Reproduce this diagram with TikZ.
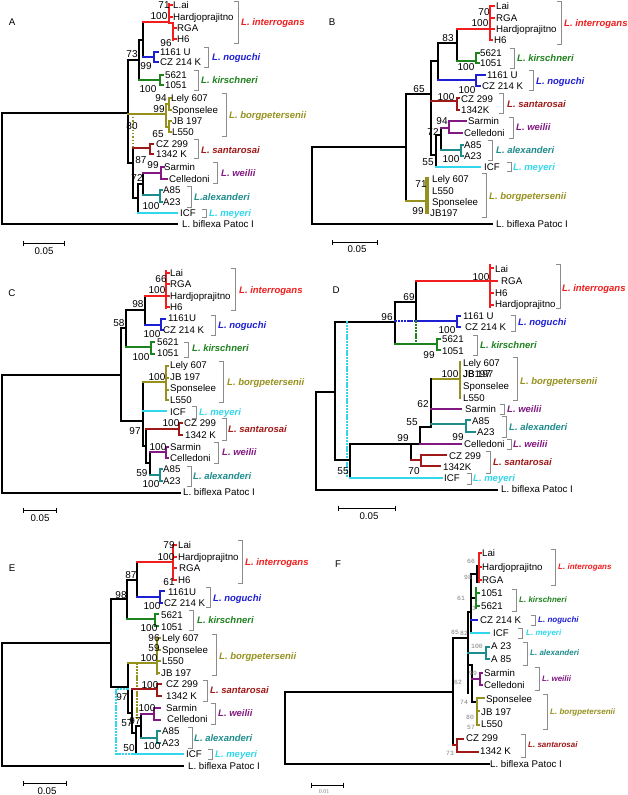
\documentclass[tikz,border=0pt]{standalone}
\usepackage{fontspec}
\setmainfont{Liberation Sans}
\newfontfamily\monof{Liberation Mono}
\newfontfamily\serf{Liberation Serif}
\definecolor{cint}{RGB}{240,30,30}
\definecolor{cnog}{RGB}{30,30,210}
\definecolor{ckir}{RGB}{30,130,30}
\definecolor{cbor}{RGB}{150,145,30}
\definecolor{csan}{RGB}{160,25,25}
\definecolor{cwei}{RGB}{130,25,130}
\definecolor{cale}{RGB}{30,140,140}
\definecolor{cmey}{RGB}{50,215,235}
\definecolor{brgray}{RGB}{140,140,140}
\newcounter{nd}
\tikzset{
 txt/.style={inner sep=0pt, text height=6.9pt, text depth=0pt, font=\fontsize{9.7}{11}\selectfont},
 leaf/.style={txt, anchor=west},
 boot/.style={txt, anchor=center, font=\fontsize{10}{11}\selectfont},
 sp/.style={txt, anchor=west, font=\fontsize{9.5}{11}\selectfont\bfseries\itshape},
 spf/.style={inner sep=0pt, text height=5.8pt, text depth=0pt, anchor=west, font=\fontsize{8}{9}\selectfont\bfseries\itshape},
 bootf/.style={inner sep=0pt, text height=4.4pt, text depth=0pt, anchor=center, text=gray, font=\fontsize{6.4}{7}\selectfont\monof},
 tl/.style={line width=1.35pt, line cap=rect},
 cl/.style={line width=1.2pt, line cap=rect},
 brk/.style={draw=brgray, line width=0.85pt},
}
\newcommand{\Lf}[3]{\stepcounter{nd}\node[leaf] (n\arabic{nd}) at (#1,#2) {#3};}
\newcommand{\Bs}[3]{\stepcounter{nd}\node[boot] (n\arabic{nd}) at (#1,#2) {#3};}
\newcommand{\Bf}[3]{\stepcounter{nd}\node[bootf] (n\arabic{nd}) at (#1,#2) {#3};}
\newcommand{\Sp}[4]{\stepcounter{nd}\node[sp,text=#1] (n\arabic{nd}) at (#2,#3) {#4};}
\newcommand{\Sf}[4]{\stepcounter{nd}\node[spf,text=#1] (n\arabic{nd}) at (#2,#3) {#4};}
\newcommand{\Br}[3]{\draw[brk] ({#1-4},#2) -- (#1,#2) -- (#1,#3) -- ({#1-4},#3);}
\newcommand{\Sc}[4]{\draw[line width=0.9pt] (#1,#3) -- (#2,#3) (#1,{#3-2.5}) -- (#1,{#3+2.5}) (#2,{#3-2.5}) -- (#2,{#3+2.5});}
\begin{document}
\begin{tikzpicture}[x=1pt,y=-1pt]
\useasboundingbox (0,0) rectangle (628,795);
\fill[white] (0,0) rectangle (628,795);

%%%%%%%%%%%%%%%% A
\node[txt] (labA) at (12,22) {A};
\draw[tl] (2,113) -- (128,113) (2,113) -- (2,224) -- (177,224);
\draw[tl] (128,60) -- (128,163) -- (133,163);
\draw[tl] (128,60) -- (139,60) (139,40) -- (139,80) (139,40) -- (143,40) (143,22) -- (143,57);
\draw[cl,cint] (143,22) -- (169,22) (169,4) -- (169,23) -- (173,23) (173,23) -- (173,40) (169,5) -- (172,5) (169,17) -- (172,17) (173,28) -- (176,28) (173,39) -- (176,39);
\draw[cl,cnog] (143,57) -- (154,57) (158,52) -- (154,52) -- (154,62) -- (158,62);
\draw[cl,ckir] (139,80) -- (160,80) (163,75) -- (160,75) -- (160,85) -- (163,85);
\draw[cl,cbor] (128,114) -- (166,114) (166,104) -- (166,127) (166,104) -- (169,104) (169,98) -- (169,110) (166,127) -- (169,127) (169,121) -- (169,132) (169,98) -- (171,98) (169,110) -- (171,110) (169,121) -- (171,121) (169,132) -- (171,132);
\draw[cbor, dotted, line width=1.2pt] (128,114) -- (138,114) (133,114) -- (133,163);
\draw[tl] (133,148) -- (133,198) -- (138,198) (138,184) -- (138,213) (138,184) -- (143,184) (143,173) -- (143,195);
\draw[cl,csan] (133,148) -- (150,148) (153,144) -- (150,144) -- (150,154) -- (153,154);
\draw[cl,cwei] (143,173) -- (161,173) (164,167) -- (161,167) -- (161,179) -- (167,179);
\draw[cl,cale] (143,195) -- (160,195) (162,190) -- (160,190) -- (160,202) -- (162,202);
\draw[cl,cmey] (138,213) -- (177,213);
\Lf{173}{5}{L.ai} \Lf{173}{17}{Hardjoprajitno} \Lf{177}{28}{RGA} \Lf{177}{39}{H6}
\Lf{160}{52}{1161 U} \Lf{160}{62}{CZ 214 K} \Lf{165}{75}{5621} \Lf{165}{85}{1051}
\Lf{171}{98}{Lely 607} \Lf{172}{110}{Sponselee} \Lf{172}{121}{JB 197} \Lf{172}{132}{L550}
\Lf{156}{144}{CZ 299} \Lf{156}{154}{1342 K} \Lf{164}{167}{Sarmin} \Lf{169}{179}{Celledoni}
\Lf{163}{190}{A85} \Lf{163}{202}{A23} \Lf{180}{213}{ICF} \Lf{182}{224}{L. biflexa Patoc I}
\Bs{164}{5}{71} \Bs{159}{16}{100} \Bs{166}{43}{96} \Bs{132}{54}{73} \Bs{146}{66}{99} \Bs{148}{89}{100}
\Bs{161}{98}{94} \Bs{159}{109}{99} \Bs{158}{134}{65} \Bs{132}{126}{80} \Bs{141}{160}{87}
\Bs{153}{165}{99} \Bs{137}{178}{72} \Bs{151}{206}{100}
\Br{238}{1}{43} \Sp{cint}{241}{22}{L. interrogans}
\Br{208}{47}{67} \Sp{cnog}{212}{57}{L. noguchi}
\Br{198}{70}{90} \Sp{ckir}{201}{80}{L. kirschneri}
\Br{226}{93}{136} \Sp{cbor}{229}{115}{L. borgpetersenii}
\Br{198}{139}{158} \Sp{csan}{201}{150}{L. santarosai}
\Br{217}{162}{183} \Sp{cwei}{221}{173}{L. weilii}
\Br{191}{186}{207} \Sp{cale}{194}{197}{L.alexanderi}
\Br{206}{209}{217} \Sp{cmey}{209}{213}{L. meyeri}
\Sc{23}{64}{243}{} \node[txt] (scA) at (44,251) {0.05};

%%%%%%%%%%%%%%%% B
\node[txt] (labB) at (332,22) {B};
\draw[tl] (312,147) -- (406,147) (312,147) -- (312,224) -- (492,224);
\draw[tl] (406,94) -- (406,201) (406,94) -- (431,94) (431,61) -- (431,155) (431,61) -- (438,61) (438,43) -- (438,80) (438,43) -- (457,43) (457,29) -- (457,61);
\draw[cl,cint] (457,29) -- (490,29) (490,6) -- (490,40) (490,6) -- (494,6) (490,18) -- (494,18) (490,29) -- (494,29) (490,40) -- (492,40);
\draw[cl,ckir] (457,61) -- (476,61) (479,53) -- (476,53) -- (476,63) -- (479,63);
\draw[cl,cnog] (438,80) -- (476,80) (485,75) -- (476,75) -- (476,86) -- (480,86);
\draw[cl,csan] (431,101) -- (457,101) (459,98) -- (457,98) -- (457,110) -- (459,110);
\draw[tl] (431,155) -- (436,155) (436,135) -- (436,167) (436,135) -- (441,135) (441,128) -- (441,150);
\draw[cl,cwei] (441,128) -- (449,128) (466,121) -- (449,121) -- (449,133) -- (462,133);
\draw[cl,cale] (441,150) -- (461,150) (463,145) -- (461,145) -- (461,156) -- (463,156);
\draw[cl,cmey] (436,167) -- (480,167);
\draw[cl,cbor] (406,201) -- (426,201) (426,178) -- (426,213) (428,178) -- (428,213);
\Lf{496}{6}{Lai} \Lf{496}{18}{RGA} \Lf{496}{29}{Hardjoprajitno} \Lf{494}{40}{H6}
\Lf{480}{53}{5621} \Lf{480}{63}{1051} \Lf{487}{75}{1161 U} \Lf{482}{86}{CZ 214 K}
\Lf{461}{99}{CZ 299} \Lf{461}{110}{1342K} \Lf{468}{121}{Sarmin} \Lf{464}{133}{Celledoni}
\Lf{464}{145}{A85} \Lf{464}{156}{A23} \Lf{484}{167}{ICF}
\Lf{432}{179}{Lely 607} \Lf{432}{191}{L550} \Lf{432}{202}{Sponselee} \Lf{430}{213}{JB197}
\Lf{496}{224}{L. biflexa Patoc I}
\Bs{484}{12}{70} \Bs{480}{23}{100} \Bs{448}{38}{83} \Bs{466}{67}{100} \Bs{467}{90.5}{100}
\Bs{446}{97}{100} \Bs{419}{89}{65} \Bs{442}{121}{94} \Bs{433}{132}{72} \Bs{428}{162}{55}
\Bs{451}{159}{100} \Bs{421}{184}{71} \Bs{418}{211}{99}
\Br{561}{1}{44} \Sp{cint}{564}{23}{L. interrogans}
\Br{514}{48}{68} \Sp{ckir}{517}{58}{L. kirschneri}
\Br{533}{70}{90} \Sp{cnog}{536}{81}{L. noguchi}
\Br{503}{93}{113} \Sp{csan}{507}{104}{L. santarosai}
\Br{513}{117}{138} \Sp{cwei}{516}{127}{L. weilii}
\Br{492}{140}{160} \Sp{cale}{496}{150}{L. alexanderi}
\Br{511}{162}{171} \Sp{cmey}{513}{167}{L. meyeri}
\Br{486}{173}{217} \Sp{cbor}{489}{196}{L. borgpetersenii}
\Sc{332}{377}{242}{} \node[txt] (scB) at (357,249) {0.05};

%%%%%%%%%%%%%%%% C
\node[txt] (labC) at (12,293) {C};
\draw[tl] (2,375) -- (121,375) (2,375) -- (2,493) -- (180,493);
\draw[tl] (121,328) -- (121,421) (121,328) -- (126,328) (126,310) -- (126,347) (126,310) -- (145,310) (145,296) -- (145,325);
\draw[cl,cint] (145,296) -- (166,296) (166,271) -- (166,308) (166,273) -- (169,273) (166,284) -- (169,284) (166,296) -- (169,296) (166,307) -- (169,307);
\draw[cl,cnog] (145,325) -- (161,325) (165,319) -- (161,319) -- (161,330) -- (163,330);
\draw[cl,ckir] (126,347) -- (151,347) (154,342) -- (151,342) -- (151,354) -- (154,354);
\draw[tl] (121,421) -- (143,421) (143,382) -- (143,446) (143,446) -- (146,446) (146,429) -- (146,463) (146,463) -- (150,463) (150,452) -- (150,475);
\draw[cl,cbor] (143,382) -- (166,382) (166,366) -- (166,400) (166,366) -- (168,366) (166,378) -- (168,378) (166,390) -- (168,390) (166,400) -- (168,400);
\draw[cl,cmey] (143,411) -- (166,411);
\draw[cl,csan] (146,429) -- (179,429) (182,423) -- (179,423) -- (179,435) -- (182,435);
\draw[cl,cwei] (150,452) -- (166,452) (168,447) -- (166,447) -- (166,458) -- (168,458);
\draw[cl,cale] (150,475) -- (160,475) (162,469) -- (160,469) -- (160,481) -- (162,481);
\Lf{170}{273}{Lai} \Lf{170}{284}{RGA} \Lf{170}{296}{Hardjoprajitno} \Lf{170}{307}{H6}
\Lf{168}{318}{1161U} \Lf{163}{330}{CZ 214 K} \Lf{157}{342}{5621} \Lf{157}{353}{1051}
\Lf{170}{365}{Lely 607} \Lf{170}{377}{JB 197} \Lf{170}{388}{Sponselee} \Lf{170}{400}{L550}
\Lf{170}{412}{ICF} \Lf{184}{423}{CZ 299} \Lf{185}{435}{1342 K} \Lf{170}{447}{Sarmin}
\Lf{170}{458}{Celledoni} \Lf{163}{469}{A85} \Lf{163}{481}{A23} \Lf{183}{492}{L. biflexa Patoc I}
\Bs{161}{279}{66} \Bs{157}{290}{100} \Bs{138}{304}{98} \Bs{152}{334}{100} \Bs{119}{323}{58}
\Bs{141}{357}{100} \Bs{157}{377}{100} \Bs{135}{431}{97} \Bs{171}{423}{100} \Bs{158}{447}{100}
\Bs{142}{473}{59} \Bs{151}{484}{100}
\Br{235}{268}{310} \Sp{cint}{239}{290}{L. interrogans}
\Br{215}{315}{335} \Sp{cnog}{218}{325}{L. noguchi}
\Br{188}{342}{357} \Sp{ckir}{192}{348}{L. kirschneri}
\Br{223}{361}{402} \Sp{cbor}{227}{382}{L. borgpetersenii}
\Br{196}{406}{418} \Sp{cmey}{199}{412}{L. meyeri}
\Br{226}{418}{440} \Sp{csan}{228}{429}{L. santarosai}
\Br{218}{442}{463} \Sp{cwei}{222}{452}{L. weilii}
\Br{191}{466}{486} \Sp{cale}{193}{476}{L. alexanderi}
\Sc{23}{56}{510}{} \node[txt] (scC) at (40,518) {0.05};

%%%%%%%%%%%%%%%% D
\node[txt] (labD) at (336,290) {D};
\draw[tl] (316,392) -- (335,392) (316,392) -- (316,490) -- (497,490);
\draw[tl] (335,322) -- (335,460) (335,322) -- (395,322) (395,302) -- (395,344) (395,302) -- (416,302) (416,281) -- (416,321);
\draw[cl,cint] (416,281) -- (497,281) (490,265) -- (490,307) (490,268) -- (493,268) (490,293) -- (493,293) (490,305) -- (493,305);
\draw[cl,cnog,dotted] (395,321) -- (416,321);
\draw[cl,cnog] (416,321) -- (457,321) (460,316) -- (457,316) -- (457,327) -- (460,327);
\draw[cl,ckir,dotted] (416,321) -- (416,344);
\draw[cl,ckir] (395,344) -- (437,344) (440,339) -- (437,339) -- (437,350) -- (440,350);
\draw[cl,cmey,dotted] (347,322) -- (347,478);
\draw[cl,cbor] (432,379) -- (460,379) (460,362) -- (460,398);
\draw[tl] (431,379) -- (431,427) -- (420,427) -- (420,444) (350,444) -- (420,444) (411,444) -- (411,460) (350,444) -- (350,478) (335,460) -- (350,460);
\draw[cl,cwei] (431,409) -- (461,409) (420,444) -- (461,444);
\draw[cl,cale] (431,424) -- (466,424) (470,420) -- (466,420) -- (466,432) -- (475,432);
\draw[cl,csan] (411,460) -- (421,460) (421,455) -- (421,466) (421,455) -- (446,455) (421,466) -- (440,466);
\draw[cl,cmey] (350,478) -- (442,478);
\Lf{495}{269}{Lai} \Lf{501}{281}{RGA} \Lf{495}{293}{H6} \Lf{495}{304}{Hardjoprajitno}
\Lf{463}{316}{1161 U} \Lf{465}{327}{CZ 214 K} \Lf{442}{339.5}{5621} \Lf{442}{351}{1051}
\Lf{463}{363}{Lely 607} \Lf{463}{374}{JB 197} \Lf{463}{374}{JB197} \Lf{463}{386}{Sponselee} \Lf{463}{398}{L550}
\Lf{465}{409}{Sarmin} \Lf{472}{421}{A85} \Lf{477}{432}{A23} \Lf{464}{444}{Celledoni}
\Lf{449}{456}{CZ 299} \Lf{443}{467}{1342K} \Lf{444}{478}{ICF} \Lf{501}{489}{L. biflexa Patoc I}
\Bs{481}{277}{100} \Bs{409}{297}{69} \Bs{387}{317}{96} \Bs{447}{330.5}{100} \Bs{429}{355}{99}
\Bs{450}{374}{100} \Bs{423}{404}{62} \Bs{412}{422}{55} \Bs{403}{438}{99} \Bs{458}{437}{99}
\Bs{414}{471}{70} \Bs{343}{471}{55}
\Br{560}{264}{308} \Sp{cint}{562}{288}{L. interrogans}
\Br{515}{315}{331} \Sp{cnog}{518}{322}{L. noguchi}
\Br{477}{335}{355} \Sp{ckir}{480}{345}{L. kirschneri}
\Br{517}{357}{400} \Sp{cbor}{520}{381}{L. borgpetersenii}
\Br{504}{404}{414} \Sp{cwei}{507}{409}{L. weilii}
\Br{506}{416}{437} \Sp{cale}{509}{427}{L. alexanderi}
\Br{511}{439}{449} \Sp{cwei}{513}{444}{L. weilii}
\Br{490}{451}{473} \Sp{csan}{493}{462}{L. santarosai}
\Br{471}{473}{484} \Sp{cmey}{473}{478}{L. meyeri}
\Sc{338}{395}{508}{} \node[txt] (scD) at (369,516) {0.05};

%%%%%%%%%%%%%%%% E
\node[txt] (labE) at (12,568) {E};
\draw[tl] (2,643) -- (111,643) (2,643) -- (2,766) -- (183,766);
\draw[tl] (111,599) -- (111,687) (111,599) -- (127,599) (127,580) -- (127,619) (127,580) -- (137,580) (137,562) -- (137,597);
\draw[cl,cint] (137,562) -- (173,562) (173,545) -- (173,580) (173,545) -- (176,545) (173,557) -- (176,557) (173,568) -- (176,568) (173,580) -- (176,580);
\draw[cl,cnog] (137,597) -- (160,597) (164,591) -- (160,591) -- (160,603) -- (162,603);
\draw[cl,ckir] (127,619) -- (155,619) (158,614) -- (155,614) -- (155,626) -- (158,626);
\draw[tl] (111,687) -- (128,687) (128,663) -- (128,713) -- (132,713) (132,689) -- (132,733) -- (136,733) (136,726) -- (136,754) (136,726) -- (141,726) (141,714) -- (141,738);
\draw[cl,cbor] (128,663) -- (157,663) (157,638) -- (157,674) (157,638) -- (160,638) (157,650) -- (160,650) (157,661) -- (160,661) (157,673) -- (159,673);
\draw[cl,cbor,dotted] (137,663) -- (137,720);
\draw[cl,csan] (132,689) -- (157,689) (161,684) -- (157,684) -- (157,696) -- (161,696);
\draw[cl,cwei] (141,714) -- (154,714) (160,708) -- (154,708) -- (154,720) -- (160,720);
\draw[cl,cale] (141,738) -- (157,738) (160,731) -- (157,731) -- (157,743) -- (160,743);
\draw[cl,cmey,dotted] (128,689) -- (116,689) -- (116,754) -- (136,754);
\draw[cl,cmey] (136,754) -- (183,754);
\Lf{178}{545}{Lai} \Lf{178}{557}{Hardjoprajitno} \Lf{179}{568}{RGA} \Lf{178}{580}{H6}
\Lf{168}{592}{1161U} \Lf{164}{603}{CZ 214 K} \Lf{161}{615}{5621} \Lf{161}{627}{1051}
\Lf{162}{638}{Lely 607} \Lf{162}{650}{Sponselee} \Lf{162}{661}{L550} \Lf{161}{673}{JB 197}
\Lf{166}{684}{CZ 299} \Lf{166}{696}{1342 K} \Lf{166}{708}{Sarmin} \Lf{167}{719}{Celledoni}
\Lf{162}{731}{A85} \Lf{162}{743}{A23} \Lf{186}{754}{ICF} \Lf{188}{766}{L. biflexa Patoc I}
\Bs{169}{545}{79} \Bs{166}{557}{100} \Bs{169}{582}{61} \Bs{131}{575}{87} \Bs{121}{595}{98}
\Bs{152}{606}{100} \Bs{149}{628}{100} \Bs{154}{638}{96} \Bs{154}{648}{59} \Bs{149}{658}{100}
\Bs{150}{685}{100} \Bs{122}{697}{97} \Bs{147}{708}{100} \Bs{127}{723}{57} \Bs{135}{721}{97}
\Bs{152}{746}{100} \Bs{129}{748}{50}
\Br{242}{540}{583} \Sp{cint}{245}{562}{L. interrogans}
\Br{210}{587}{607} \Sp{cnog}{213}{598}{L. noguchi}
\Br{193}{610}{630} \Sp{ckir}{197}{620}{L. kirschneri}
\Br{216}{634}{675} \Sp{cbor}{219}{656}{L. borgpetersenii}
\Br{207}{680}{701} \Sp{csan}{210}{690}{L. santarosai}
\Br{215}{703}{724} \Sp{cwei}{218}{713}{L. weilii}
\Br{192}{727}{748} \Sp{cale}{194}{738}{L. alexanderi}
\Br{212}{749}{759} \Sp{cmey}{215}{754}{L. meyeri}
\Sc{23}{66}{783}{} \node[txt] (scE) at (47,791) {0.05};

%%%%%%%%%%%%%%%% F
\node[txt] (labF) at (338,564) {F};
\draw[tl] (285,692) -- (453,692) (285,692) -- (285,764) -- (489,764);
\draw[tl] (453,638) -- (453,745) (453,638) -- (468,638) (468,612) -- (468,693) (468,612) -- (471,612) (471,574) -- (471,633) (471,574) -- (477,574) (477,566) -- (477,582) (471,598) -- (476,598);
\draw[cl,cint] (479,553) -- (479,582) (479,553) -- (481,553) (479,567) -- (481,567) (479,580) -- (481,580);
\draw[cl,ckir] (476,588) -- (476,608) (476,593) -- (479,593) (476,606) -- (479,606);
\draw[cl,cnog] (471,620) -- (477,620);
\draw[cl,cmey] (471,633) -- (489,633);
\draw[cl,cale] (468,653) -- (486,653) (489,647) -- (486,647) -- (486,659) -- (489,659);
\draw[tl] (468,665) -- (472,665) (472,665) -- (472,702) (472,702) -- (477,702);
\draw[cl,cwei] (472,679) -- (480,679) (482,673) -- (480,673) -- (480,685) -- (482,685);
\draw[cl,cbor] (477,698) -- (477,725) (477,698) -- (484,698) (477,711) -- (479,711) (477,725) -- (479,725);
\draw[cl,csan] (453,745) -- (457,745) (457,739) -- (457,752) (457,739) -- (463,739) (457,752) -- (478,752);
\Lf{482}{553}{Lai} \Lf{482}{567}{Hardjoprajitno} \Lf{482}{580}{RGA} \Lf{481}{593}{1051}
\Lf{481}{606}{5621} \Lf{480}{620}{CZ 214 K} \Lf{493}{633}{ICF} \Lf{491}{646}{A 23}
\Lf{491}{659}{A 85} \Lf{484}{673}{Sarmin} \Lf{484}{685}{Celledoni} \Lf{486}{699}{Sponselee}
\Lf{481}{712}{JB 197} \Lf{481}{724}{L550} \Lf{466}{738}{CZ 299} \Lf{480}{751}{1342 K}
\Lf{490}{764}{L. biflexa Patoc I}
\Bf{471}{561}{66} \Bf{468}{577}{98} \Bf{461}{598}{61} \Bf{474}{608}{3} \Bf{455}{632}{85}
\Bf{464}{633}{82} \Bf{477}{646}{100} \Bf{473}{673}{99} \Bf{458}{682}{62} \Bf{464}{702}{74}
\Bf{470}{717}{80} \Bf{471}{727}{57} \Bf{450}{753}{73}
\Br{555}{549}{585} \Sf{cint}{558}{567}{L. interrogans}
\Br{516}{589}{611} \Sf{ckir}{519}{600}{L. kirschneri}
\Br{535}{615}{625} \Sf{cnog}{538}{620}{L. noguchi}
\Br{522}{628}{638} \Sf{cmey}{526}{633}{L. meyeri}
\Br{527}{642}{665} \Sf{cale}{530}{653}{L. alexanderi}
\Br{539}{667}{690} \Sf{cwei}{542}{679}{L. weilii}
\Br{547}{694}{729} \Sf{cbor}{550}{712}{L. borgpetersenii}
\Br{525}{734}{757} \Sf{csan}{528}{745}{L. santarosai}
\Sc{311}{343}{785}{} \node[inner sep=0pt, text=gray, font=\fontsize{6}{7}\selectfont\serf] (scF) at (324,792) {0.01};
\end{tikzpicture}
\end{document}
